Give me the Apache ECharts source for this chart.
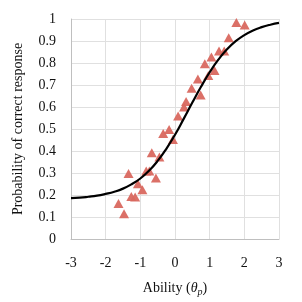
<!DOCTYPE html>
<html>
<head>
<meta charset="utf-8">
<script src="https://cdn.jsdelivr.net/npm/echarts@6/dist/echarts.min.js"></script>
<style>html,body{margin:0;padding:0;background:#fff}#c{width:302px;height:302px}</style>
</head>
<body>
<div id="c"></div>
<script>
// Observed responses (ability, proportion correct)
var pointX = [-1.63,-1.47,-1.26,-1.15,-1.34,-1.07,-0.94,-0.83,-0.74,-0.55,-0.67,-0.45,-0.34,-0.17,-0.06,0.09,0.26,0.32,0.48,0.74,0.66,0.86,0.96,1.05,1.14,1.27,1.42,1.55,1.77,2.01];
var pointY = [0.161,0.115,0.193,0.191,0.298,0.251,0.224,0.309,0.309,0.277,0.392,0.373,0.479,0.498,0.452,0.559,0.600,0.625,0.685,0.655,0.727,0.797,0.743,0.827,0.766,0.855,0.855,0.915,0.984,0.973];
// Item characteristic curve
var curveX = [-3,-2.75,-2.5,-2.25,-2,-1.75,-1.5,-1.25,-1,-0.75,-0.5,-0.25,0,0.25,0.5,0.75,1,1.25,1.5,1.75,2,2.25,2.5,2.75,3];
var curveY = [0.186,0.188,0.192,0.197,0.205,0.215,0.229,0.249,0.275,0.310,0.355,0.410,0.474,0.546,0.620,0.692,0.758,0.815,0.862,0.899,0.927,0.948,0.963,0.974,0.982];
var xTicks = [-3,-2,-1,0,1,2,3];
var yTicks = [0,0.1,0.2,0.3,0.4,0.5,0.6,0.7,0.8,0.9,1];

var chart = echarts.init(document.getElementById('c'), null, {renderer:'canvas'});
var font = '"Liberation Serif", "Times New Roman", serif';
chart.setOption({
  animation:false,
  backgroundColor:'#fff',
  grid:{left:71,right:23,top:19,bottom:63},
  xAxis:{
    type:'value', min:xTicks[0], max:xTicks[xTicks.length-1], interval:1,
    name:'{a|Ability (}{t|θ}{s|p}{a|)}',
    nameLocation:'middle', nameGap:40,
    nameTextStyle:{rich:{
      a:{fontFamily:font,fontSize:14,color:'#111'},
      t:{fontFamily:font,fontSize:14,fontStyle:'italic',color:'#111'},
      s:{fontFamily:font,fontSize:10,fontStyle:'italic',color:'#111',padding:[8,0,0,0]}
    }},
    axisLine:{show:true,onZero:false,lineStyle:{color:'#bfbfbf',width:1}},
    axisTick:{show:false},
    axisLabel:{fontFamily:font,fontSize:14,color:'#111',margin:17},
    splitLine:{show:true,lineStyle:{color:'#e0e0e0',width:1}}
  },
  yAxis:{
    type:'value', min:yTicks[0], max:yTicks[yTicks.length-1], interval:0.1,
    name:'Probability of correct response',
    nameLocation:'middle', nameGap:46,
    nameTextStyle:{fontFamily:font,fontSize:14,color:'#111'},
    axisLine:{show:true,onZero:false,lineStyle:{color:'#bfbfbf',width:1}},
    axisTick:{show:false},
    axisLabel:{fontFamily:font,fontSize:14,color:'#111',margin:15,
      formatter:function(v){return String(Math.round(v*10)/10);}},
    splitLine:{show:true,lineStyle:{color:'#e0e0e0',width:1}}
  },
  series:[
    {type:'scatter', symbol:'triangle', symbolSize:[10,9],
     itemStyle:{color:'#d9685f',opacity:0.95},
     data:pointX.map(function(x,i){return [x,pointY[i]];}), z:2},
    {type:'line', smooth:true, showSymbol:false, symbol:'none',
     lineStyle:{color:'#000',width:2.2},
     data:curveX.map(function(x,i){return [x,curveY[i]];}), z:3}
  ]
});
</script>
</body>
</html>
